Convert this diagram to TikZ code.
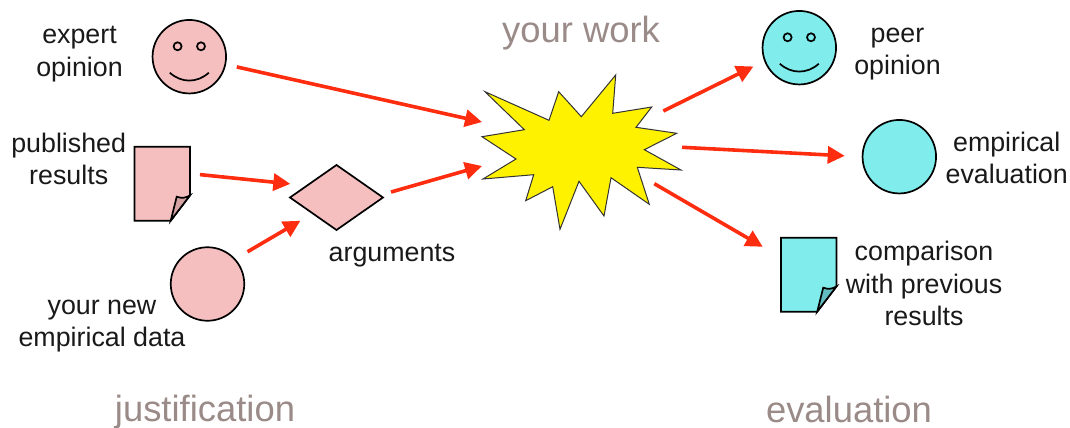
\documentclass[tikz,border=0pt]{standalone}
\usepackage{fontspec}
\setmainfont{Liberation Sans}
\usetikzlibrary{arrows.meta, shapes.geometric}
\definecolor{pinkfill}{HTML}{F5BFBF}
\definecolor{pinkfold}{HTML}{D5A3A3}
\definecolor{cyanfill}{HTML}{80ECEC}
\definecolor{cyanfold}{HTML}{63BDC0}
\definecolor{burstfill}{HTML}{FFF200}
\definecolor{arrowred}{HTML}{FF2D10}
\definecolor{titlegray}{HTML}{9A8A88}

% eyes and smile on a round node
\newcommand{\facedetails}[1]{
  \draw[feature] ([shift={(-11.7,-10.4)}]#1.center) circle (4);
  \draw[feature] ([shift={(11.7,-10.4)}]#1.center) circle (4);
  \draw[feature] ([shift={(-19.5,16)}]#1.center) .. controls ([shift={(-8,26.5)}]#1.center) and ([shift={(8,26.5)}]#1.center) .. ([shift={(19.5,16)}]#1.center);
}
% sheet of paper with a curled corner on a sheet node
\newcommand{\sheetdetails}[3]{
  \draw[feature, fill=#2] (#1.north west) -- (#1.north east) -- ([shift={(0,11.7)}]#1.east) -- ([shift={(8.5,0)}]#1.south) -- (#1.south west) -- cycle;
  \draw[feature, fill=#3] ([shift={(8.5,0)}]#1.south) -- ([shift={(14.5,13)}]#1.center) .. controls ([shift={(20,15)}]#1.center) and ([shift={(24,14)}]#1.center) .. ([shift={(27.8,11.7)}]#1.center) -- cycle;
}

\begin{document}
\begin{tikzpicture}[
  x=1pt, y=-1pt,
  every node/.style={font=\fontsize{26.8}{32.4}\selectfont, text=black!90},
  feature/.style={draw, line width=1.7pt},
  label/.style={align=center, inner sep=0pt},
  title/.style={font=\fontsize{36.4}{40}\selectfont, text=titlegray, inner sep=0pt},
  ball/.style={circle, draw, line width=1.7pt, minimum size=73.5pt, inner sep=0pt},
  sheet/.style={rectangle, minimum width=55.6pt, minimum height=74pt, inner sep=0pt, outer sep=0pt},
  argbox/.style={diamond, draw, line width=1.7pt, fill=pinkfill, minimum width=93pt, minimum height=65pt,
                 aspect=1.43, inner sep=0pt, outer sep=0pt},
  arr/.style={-{Triangle[length=17pt, width=17pt]}, line width=3.6pt, arrowred}
]
  \useasboundingbox (0,0) rectangle (1070,428);

  % ---- justification side ----
  \node[ball, fill=pinkfill] (expert) at (189.3,56.7) {};
  \facedetails{expert}
  \node[sheet] (published) at (162.2,183.7) {};
  \sheetdetails{published}{pinkfill}{pinkfold}
  \node[ball, fill=pinkfill] (newdata) at (207.5,284) {};
  \node[argbox] (arguments) at (336.5,197.5) {};

  % ---- the work itself ----
  \draw[line width=1pt, draw=black!80, fill=burstfill, line join=miter]
    (485,91.7) -- (549,120.3) -- (558.7,91.7) -- (581.3,116.7) -- (615.7,75) -- (612.7,113.3)
    -- (651.7,107) -- (636,127.3) -- (676.7,133.3) -- (644.3,149.7) -- (681,170) -- (637.3,167.3)
    -- (649.3,204.3) -- (611,177.7) -- (604,216) -- (579,181.3) -- (560,229.3) -- (552.7,186.7)
    -- (525.7,200.7) -- (533.7,174.7) -- (483,179) -- (516,159) -- (482,136.7) -- (524.3,129.7) -- cycle;
  \coordinate (burstexpert) at (482,122);
  \coordinate (burstargs)   at (482,166);
  \coordinate (burstpeer)   at (663.3,111);
  \coordinate (bursteval)   at (682,147.3);
  \coordinate (burstcomp)   at (654.3,183.7);

  % ---- evaluation side ----
  \node[ball, fill=cyanfill] (peer) at (799.3,47.7) {};
  \facedetails{peer}
  \node[ball, fill=cyanfill] (empirical) at (899.3,156.7) {};
  \node[sheet] (comparison) at (808.7,274.7) {};
  \sheetdetails{comparison}{cyanfill}{cyanfold}

  % ---- labels ----
  \node[label] (expertlbl)     at (79.5,54)   {expert\\opinion};
  \node[label] (publishedlbl)  at (68.7,159)  {published\\results};
  \node[label] (newdatalbl)    at (102,326)   {your new\\empirical data};
  \node[label] (argumentslbl)  at (392,256)   {arguments};
  \node[label] (peerlbl)       at (897.5,54)  {peer\\opinion};
  \node[label] (empiricallbl)  at (1006.7,158) {empirical\\evaluation};
  \node[label] (comparisonlbl) at (924,283.5) {comparison\\with previous\\results};

  \node[title] (worktitle)  at (581,33)  {your work};
  \node[title] (justtitle)  at (205,412) {justification};
  \node[title] (evaltitle)  at (849,409) {evaluation};

  % ---- arrows into the work ----
  \draw[arr, shorten <=11pt] (expert.-12.8) -- (burstexpert);
  \draw[arr, shorten <=10pt, shorten >=16.8pt] (published.20.7) -- (arguments.158.6);
  \draw[arr, shorten <=14pt, shorten >=14.4pt] (newdata.42.8) -- (arguments.214);
  \draw[arr, shorten <=11.7pt] (arguments.3) -- (burstargs);

  % ---- arrows out of the work ----
  \draw[arr, shorten >=12pt] (burstpeer) -- (peer.201.6);
  \draw[arr, shorten >=17pt] (bursteval) -- (empirical.180);
  \draw[arr, shorten >=21pt] (burstcomp) -- (comparison.148.1);
\end{tikzpicture}
\end{document}
